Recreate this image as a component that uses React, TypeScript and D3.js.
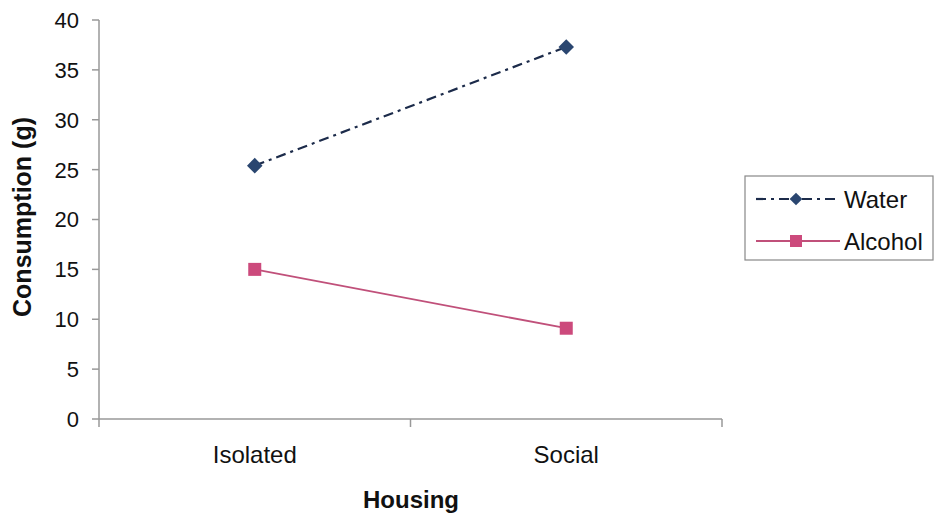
import React from "react";
import * as d3 from "d3";

const categories = ["Isolated", "Social"];
const waterValues = [25.4, 37.3];
const alcoholValues = [15.0, 9.1];
const yTicks = [0, 5, 10, 15, 20, 25, 30, 35, 40];
const seriesNames = ["Water", "Alcohol"];

export default function App() {
  const W = 935, H = 521;
  const x0 = 99, x1 = 722, yTop = 20, yBot = 419;
  const x = d3.scaleBand<string>().domain(categories).range([x0, x1]);
  const y = d3.scaleLinear().domain([0, 40]).range([yBot, yTop]);
  const cx = (c: string) => (x(c) as number) + x.bandwidth() / 2;
  const line = d3.line<[number, number]>().x(d => d[0]).y(d => d[1]);
  const waterPts: [number, number][] = categories.map((c, i) => [cx(c), y(waterValues[i])]);
  const alcPts: [number, number][] = categories.map((c, i) => [cx(c), y(alcoholValues[i])]);
  const font = "Arial, 'Liberation Sans', sans-serif";
  const waterColor = "#1c2b4a";
  const waterMarker = "#2a4670";
  const alcColor = "#c0507a";
  const alcMarker = "#cc4a7c";
  const dash = "10,5,3,5";
  const axisColor = "#999";
  const xTickPos = [x0, ...categories.slice(1).map(c => x(c) as number), x1];
  return (
    <svg width={W} height={H} style={{ position: "absolute", left: 0, top: 0, background: "#fff" }} fontFamily={font}>
      {/* y axis */}
      <line x1={x0} x2={x0} y1={yTop} y2={yBot} stroke={axisColor} strokeWidth={1.5} />
      {yTicks.map(t => (
        <g key={t}>
          <line x1={x0 - 7} x2={x0} y1={y(t)} y2={y(t)} stroke={axisColor} strokeWidth={1.5} />
          <text x={79} y={y(t)} dy="0.36em" textAnchor="end" fontSize={22} fill="#111">{t}</text>
        </g>
      ))}
      {/* x axis */}
      <line x1={x0} x2={x1} y1={yBot} y2={yBot} stroke={axisColor} strokeWidth={1.5} />
      {xTickPos.map((p, i) => (
        <line key={i} x1={p} x2={p} y1={yBot} y2={yBot + 8} stroke={axisColor} strokeWidth={1.5} />
      ))}
      {categories.map(c => (
        <text key={c} x={cx(c)} y={463} textAnchor="middle" fontSize={24} fill="#111">{c}</text>
      ))}
      <text x={411} y={508} textAnchor="middle" fontSize={24} fontWeight="bold" fill="#111">Housing</text>
      <text transform={`translate(31,${217}) rotate(-90)`} textAnchor="middle" fontSize={25} fontWeight="bold" fill="#111">Consumption (g)</text>
      {/* series */}
      <path d={line(waterPts) || ""} fill="none" stroke={waterColor} strokeWidth={2.2} strokeDasharray={dash} />
      <path d={line(alcPts) || ""} fill="none" stroke={alcColor} strokeWidth={1.8} />
      {waterPts.map((p, i) => (
        <rect key={i} x={p[0] - 5.5} y={p[1] - 5.5} width={11} height={11} fill={waterMarker} transform={`rotate(45,${p[0]},${p[1]})`} />
      ))}
      {alcPts.map((p, i) => (
        <rect key={i} x={p[0] - 6.5} y={p[1] - 6.5} width={13} height={13} fill={alcMarker} />
      ))}
      {/* legend */}
      <rect x={745} y={176} width={188} height={84} fill="#fff" stroke="#888" strokeWidth={1.2} />
      <line x1={756} x2={840} y1={199} y2={199} stroke={waterColor} strokeWidth={2.2} strokeDasharray={dash} />
      <rect x={791.5} y={194.5} width={9} height={9} fill={waterMarker} transform={`rotate(45,796,199)`} />
      <text x={844} y={199} dy="0.36em" fontSize={24} fill="#111">{seriesNames[0]}</text>
      <line x1={756} x2={840} y1={241} y2={241} stroke={alcColor} strokeWidth={1.8} />
      <rect x={790} y={235} width={12} height={12} fill={alcMarker} />
      <text x={844} y={241} dy="0.36em" fontSize={24} fill="#111">{seriesNames[1]}</text>
    </svg>
  );
}
